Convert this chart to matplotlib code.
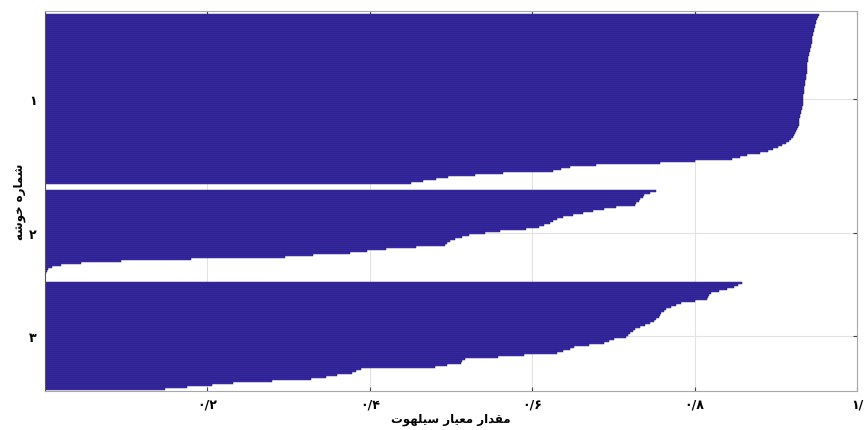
import matplotlib
matplotlib.use("Agg")
import matplotlib.pyplot as plt

# ---------------- data ----------------
cluster_labels = ["۱", "۲", "۳"]
x_ticks = [0.2, 0.4, 0.6, 0.8, 1.0]
x_tick_labels = ["۰/۲", "۰/۴", "۰/۶", "۰/۸", "۱/"]
x_label = "مقدار معیار سیلهوت"
y_label = "شماره خوشه"

sil_cluster1 = [
    0.953, 0.952, 0.951, 0.950, 0.949, 0.948, 0.948, 0.947, 0.947, 0.946,
    0.946, 0.945, 0.945, 0.944, 0.944, 0.943, 0.943, 0.942, 0.942, 0.941,
    0.941, 0.940, 0.940, 0.940, 0.939, 0.939, 0.939, 0.938, 0.938, 0.938,
    0.937, 0.937, 0.937, 0.936, 0.936, 0.936, 0.935, 0.935, 0.935, 0.935,
    0.934, 0.934, 0.934, 0.933, 0.933, 0.933, 0.932, 0.932, 0.931, 0.931,
    0.930, 0.930, 0.929, 0.929, 0.928, 0.928, 0.927, 0.926, 0.925, 0.924,
    0.923, 0.921, 0.919, 0.916, 0.912, 0.908, 0.903, 0.897, 0.891, 0.880,
    0.865, 0.856, 0.846, 0.800, 0.758, 0.679, 0.647, 0.636, 0.626, 0.564,
    0.530, 0.496, 0.482, 0.466, 0.451,
]
sil_cluster2 = [
    0.752, 0.745, 0.738, 0.736, 0.733, 0.731, 0.728, 0.726, 0.703, 0.688,
    0.675, 0.663, 0.650, 0.638, 0.630, 0.626, 0.622, 0.615, 0.608, 0.592,
    0.560, 0.542, 0.522, 0.514, 0.505, 0.499, 0.495, 0.492, 0.457, 0.420,
    0.396, 0.376, 0.330, 0.296, 0.180, 0.094, 0.044, 0.020, 0.009, 0.004,
    0.002, 0.001, 0.000,
]
sil_cluster3 = [
    0.858, 0.853, 0.849, 0.840, 0.830, 0.820, 0.818, 0.817, 0.815, 0.800,
    0.783, 0.777, 0.771, 0.765, 0.762, 0.759, 0.757, 0.756, 0.752, 0.750,
    0.745, 0.739, 0.733, 0.727, 0.724, 0.721, 0.718, 0.716, 0.701, 0.695,
    0.689, 0.670, 0.651, 0.646, 0.638, 0.631, 0.590, 0.558, 0.517, 0.514,
    0.512, 0.495, 0.480, 0.389, 0.383, 0.378, 0.360, 0.346, 0.328, 0.280,
    0.232, 0.206, 0.175, 0.148,
]
clusters = [sil_cluster1, sil_cluster2, sil_cluster3]

# ------------- simple Persian shaping (matplotlib has no Arabic shaping) -------------
# letter: (isolated, final, initial, medial); None -> right-joining only
FORMS = {
    "ا": ("\uFE8D", "\uFE8E", None, None),
    "ت": ("\uFE95", "\uFE96", "\uFE97", "\uFE98"),
    "خ": ("\uFEA5", "\uFEA6", "\uFEA7", "\uFEA8"),
    "د": ("\uFEA9", "\uFEAA", None, None),
    "ر": ("\uFEAD", "\uFEAE", None, None),
    "س": ("\uFEB1", "\uFEB2", "\uFEB3", "\uFEB4"),
    "ش": ("\uFEB5", "\uFEB6", "\uFEB7", "\uFEB8"),
    "ع": ("\uFEC9", "\uFECA", "\uFECB", "\uFECC"),
    "ق": ("\uFED5", "\uFED6", "\uFED7", "\uFED8"),
    "ل": ("\uFEDD", "\uFEDE", "\uFEDF", "\uFEE0"),
    "م": ("\uFEE1", "\uFEE2", "\uFEE3", "\uFEE4"),
    "ه": ("\uFEE9", "\uFEEA", "\uFEEB", "\uFEEC"),
    "و": ("\uFEED", "\uFEEE", None, None),
    "ی": ("\uFBFC", "\uFBFD", "\uFBFE", "\uFBFF"),
}


def shape_fa(text):
    chars = list(text)
    out = []
    for i, ch in enumerate(chars):
        if ch not in FORMS:
            out.append(ch)
            continue
        prev = chars[i - 1] if i > 0 else None
        nxt = chars[i + 1] if i + 1 < len(chars) else None
        join_prev = prev in FORMS and FORMS[prev][2] is not None
        join_next = nxt in FORMS and FORMS[ch][2] is not None
        iso, fin, ini, med = FORMS[ch]
        if join_prev and join_next:
            out.append(med)
        elif join_prev:
            out.append(fin)
        elif join_next:
            out.append(ini)
        else:
            out.append(iso)
    return "".join(out)[::-1]


# ---------------- figure ----------------
plt.rcParams["font.family"] = ["DejaVu Sans"]
fig = plt.figure(figsize=(8.64, 4.31), dpi=100)
ax = fig.add_axes([45 / 864, 1 - 392 / 431, 812 / 864, 380 / 431])

bar_color = "#3e2ebd"
edge_color = "#17113f"
gap = 3
start = 1.5
tick_pos = []
for vals in clusters:
    ys = [start + i + 0.5 for i in range(len(vals))]
    ax.barh(ys, vals, height=1.0, color=bar_color, edgecolor=edge_color,
            linewidth=0.3, zorder=2)
    tick_pos.append(start + len(vals) / 2)
    start += len(vals) + gap

ax.set_xlim(0, 1)
ax.set_ylim(190, 0)

ax.set_xticks(x_ticks)
ax.set_xticklabels(x_tick_labels, fontsize=9, fontweight="bold")
ax.set_yticks(tick_pos)
ax.set_yticklabels(cluster_labels, fontsize=9, fontweight="bold")

ax.grid(True, color="#e2e2e2", linewidth=0.8, zorder=0)
ax.set_axisbelow(True)
ax.tick_params(direction="in", length=3, width=0.8, color="#444444",
               top=True, right=True)
ax.tick_params(axis="x", pad=5)
ax.tick_params(axis="y", pad=6)
for side, sp in ax.spines.items():
    sp.set_color("#a8a8a8")
    sp.set_linewidth(0.8)
ax.spines["left"].set_color("#555555")

ax.set_xlabel(shape_fa(x_label), fontsize=8.5, fontweight="bold", labelpad=1)
ax.set_ylabel(shape_fa(y_label), fontsize=8.5, fontweight="bold", labelpad=2)

fig.savefig("out.png", dpi=100)
